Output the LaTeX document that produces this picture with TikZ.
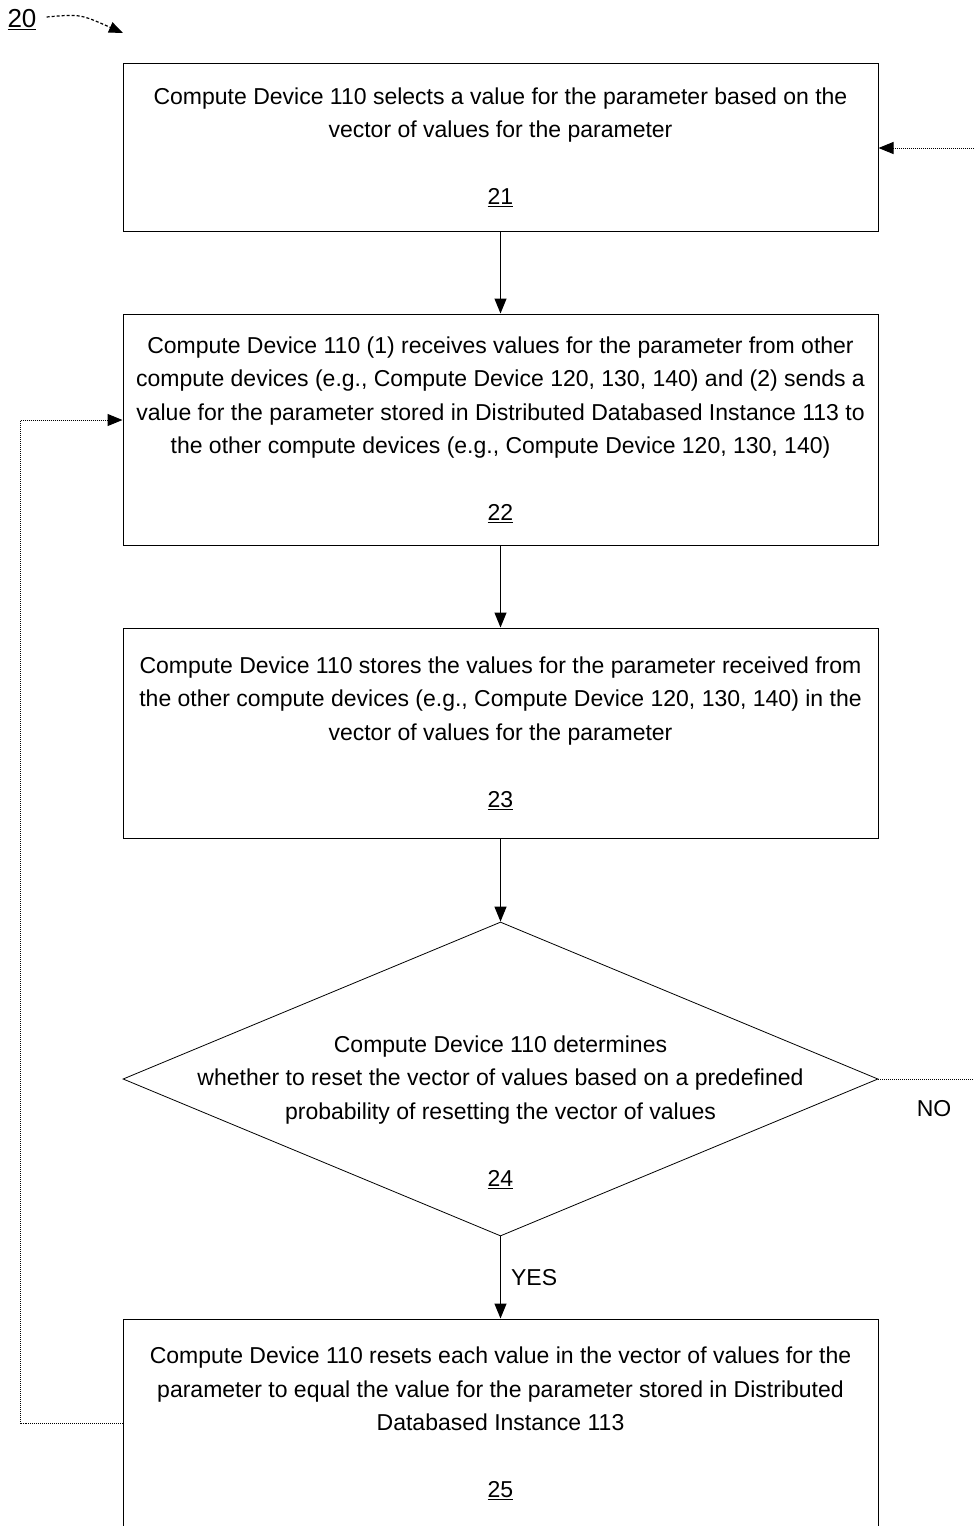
\documentclass[tikz,border=0pt]{standalone}
\usepackage{fontspec}
\setmainfont{Liberation Sans}
\usetikzlibrary{shapes.geometric,arrows.meta}
\tikzset{
  box/.style={draw, rectangle, line width=1pt, minimum width=755pt, inner sep=0pt, align=center,
    font=\fontsize{23}{33.5}\selectfont},
  dia/.style={draw, diamond, line width=0.8pt, minimum width=755pt, minimum height=314pt, inner sep=0pt},
  txt/.style={align=center, inner sep=0pt, font=\fontsize{23}{33.5}\selectfont},
  tip/.style={-{Triangle[width=12pt,length=15pt]}},
  flow/.style={line width=1.2pt, tip},
  ext/.style={line width=1pt, densely dotted},
  lab/.style={inner sep=0pt, font=\fontsize{23}{26}\selectfont}
}
\begin{document}
\begin{tikzpicture}[x=1pt,y=-1pt]
\useasboundingbox (0,0) rectangle (974,1526);
\clip (0,0) rectangle (974,1526);

\node[lab, font=\fontsize{26}{30}\selectfont] (n20) at (22,20) {\underline{20}};
\coordinate (a20) at (123,33);
\draw[line width=1.2pt, densely dashed, -{Triangle[width=11pt,length=14pt]}] (n20.east) ++(10,-3) .. controls (80,14) .. (a20);

\node[box, minimum height=168pt] (b21) at (500.5,147)
 {Compute Device 110 selects a value for the parameter based on the\\
  vector of values for the parameter\\[33.5pt]
  \underline{21}};

\node[box, minimum height=231pt] (b22) at (500.5,429.5)
 {Compute Device 110 (1) receives values for the parameter from other\\
  compute devices (e.g., Compute Device 120, 130, 140) and (2) sends a\\
  value for the parameter stored in Distributed Databased Instance 113 to\\
  the other compute devices (e.g., Compute Device 120, 130, 140)\\[33.5pt]
  \underline{22}};

\node[box, minimum height=210pt] (b23) at (500.5,733)
 {Compute Device 110 stores the values for the parameter received from\\
  the other compute devices (e.g., Compute Device 120, 130, 140) in the\\
  vector of values for the parameter\\[33.5pt]
  \underline{23}};

\node[dia] (d24) at (500.5,1079) {};
\node[txt] (t24) at (500.5,1112)
 {Compute Device 110 determines\\
  whether to reset the vector of values based on a predefined\\
  probability of resetting the vector of values\\[33.5pt]
  \underline{24}};

\node[box, minimum height=209pt] (b25) at (500.5,1423.5)
 {Compute Device 110 resets each value in the vector of values for the\\
  parameter to equal the value for the parameter stored in Distributed\\
  Databased Instance 113\\[33.5pt]
  \underline{25}};

\draw[flow] (b21) -- (b22);
\draw[flow] (b22) -- (b23);
\draw[flow] (b23) -- (d24.north);
\draw[flow] (d24.south) -- node[lab, right=10pt] (yes) {YES} (b25);

\coordinate (in21) at (974,148);
\draw[ext, tip] (in21) -- (in21 -| b21.east);

\coordinate (no) at (974,1079);
\draw[ext] (d24.east) -- (no);
\node[lab] (nolab) at (934,1109) {NO};

\coordinate (l1) at (20,1423);
\coordinate (l2) at (20,420);
\draw[ext, tip] (b25.west |- l1) -- (l1) -- (l2) -- (l2 -| b22.west);
\end{tikzpicture}
\end{document}
